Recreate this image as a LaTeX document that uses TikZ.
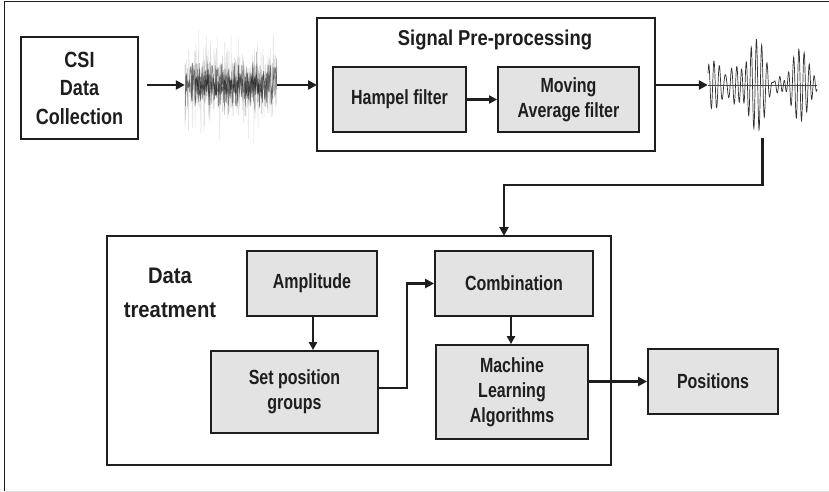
\documentclass[tikz,border=0pt]{standalone}
\usepackage{fontspec}
\setmainfont{Liberation Sans}[FakeStretch=0.85]
\newfontfamily\fboxes{Liberation Sans}[FakeStretch=0.78]
\newfontfamily\fcsi{Liberation Sans}[FakeStretch=0.82]
\newfontfamily\ftitle{Liberation Sans}[FakeStretch=0.855]
\newfontfamily\fdt{Liberation Sans}[FakeStretch=0.9]
\usetikzlibrary{arrows.meta,calc}
\definecolor{boxfill}{HTML}{E3E3E3}
\definecolor{ink}{HTML}{1E1E1E}
\tikzset{
  gbox/.style={draw=ink, line width=1.8pt, fill=boxfill, inner sep=0pt, align=center,
    font=\fboxes\fontsize{20.5}{25}\selectfont\bfseries, text=ink},
  wbox/.style={draw=ink, line width=1.8pt, fill=white, inner sep=0pt, align=center,
    font=\fcsi\fontsize{22}{28.5}\selectfont\bfseries, text=ink},
  frame/.style={draw=ink, line width=1.8pt},
  lbl/.style={inner sep=0pt, align=center, text=ink},
  arr/.style={draw=ink, line width=2.6pt, -{Triangle[length=9pt,width=9pt]}},
  arrthin/.style={draw=ink, line width=2pt, -{Triangle[length=8pt,width=8pt]}},
  sigbox/.style={inner sep=0pt, draw=none}
}
\begin{document}
\begin{tikzpicture}[x=1pt,y=-1pt]
\useasboundingbox (0,0) rectangle (829,492);
\fill[white] (0,0) rectangle (829,492);
% outer (cropped) frame
\draw[ink, line width=1.3pt] (4.5,491) -- (4.5,1.5) -- (829,1.5);
\draw[black!12, line width=1pt] (4.5,491) -- (829,491);

% top row
\node[wbox, minimum width=117pt, minimum height=102pt] (csi) at (79.5,88) {CSI\\Data\\Collection};
\node[sigbox, minimum width=92pt, minimum height=120pt] (noisy) at (231,85) {};
\draw[frame, fill=white] (317,18) rectangle (655,151);
\coordinate (sppw) at (317,85);
\coordinate (sppe) at (655,85);
\node[lbl, font=\ftitle\fontsize{21.5}{26}\selectfont\bfseries] (spptitle) at (495,40) {Signal Pre-processing};
\node[gbox, minimum width=133pt, minimum height=65pt] (hampel) at (399.5,99.5) {Hampel filter};
\node[gbox, minimum width=141pt, minimum height=65pt] (moving) at (568.5,99.5) {Moving\\Average filter};
\node[sigbox, minimum width=109pt, minimum height=104pt] (clean) at (762.5,85) {};

% noisy signal
\begin{scope}
\pgfmathsetseed{7}
\draw[black, opacity=0.12, line width=0.5pt] plot[domain=185:277, samples=420] (\x, {85+60*rand*abs(rand)});
\draw[black, opacity=0.25, line width=0.5pt] plot[domain=185:277, samples=360] (\x, {85+38*rand*abs(rand)});
\draw[black, opacity=0.45, line width=0.45pt] plot[domain=185:277, samples=300] (\x, {85+22*rand});
\draw[black, opacity=0.45, line width=0.4pt] plot[domain=195:267, samples=200] (\x, {85+12*rand});
\end{scope}

% clean signal
\draw[black!70, line width=0.45pt] (708,85) -- (817,85);
\draw[black!80, line width=0.7pt] plot[domain=708:817, samples=450]
  (\x, {85 - (20*sin(68.4*(\x-708)) + 16*sin(75.6*(\x-708)+40) + 12*sin(59.4*(\x-708)+110))*(0.55+0.45*sin(1.6514*(\x-708)))});

% top arrows
\draw[arr] ([xshift=8pt]csi.east |- noisy.west) -- (noisy.west);
\draw[arr] (noisy.east) -- (sppw);
\draw[arrthin, line width=2.4pt] (hampel.east) -- (moving.west);
\draw[arr] (sppe) -- (clean.west);

% data treatment
\draw[frame] (107,236) rectangle (611,465);
\coordinate (dtin) at (504,236);
\node[lbl, font=\fdt\fontsize{22.5}{34}\selectfont\bfseries] (dtlabel) at (170,293) {Data\\treatment};
\node[gbox, minimum width=130pt, minimum height=65pt] (amp) at (312,283.5) {Amplitude};
\node[gbox, minimum width=167pt, minimum height=82pt] (setpos) at (294.5,392) {Set position\\groups};
\node[gbox, minimum width=158pt, minimum height=65pt] (comb) at (514,283.5) {Combination};
\node[gbox, minimum width=152pt, minimum height=94pt] (ml) at (512,392) {Machine\\Learning\\Algorithms};
\node[gbox, minimum width=130pt, minimum height=65pt] (pos) at (713,381.5) {Positions};

% connectors
\draw[arr, line width=2.4pt] ([yshift=-1pt]clean.south) -- (clean.south |- 0,185) -| (dtin);
\draw[arrthin] ([xshift=1pt]amp.south) -- ([xshift=1pt]amp.south |- setpos.north);
\draw[arr, line width=2.8pt] ([yshift=4pt]setpos.east) -- ++(28,0) |- (comb.west);
\draw[arrthin] ([xshift=-3pt]comb.south) -- ([xshift=-3pt]comb.south |- ml.north);
\draw[arr] (ml.east |- pos.west) -- (pos.west);
\end{tikzpicture}
\end{document}
